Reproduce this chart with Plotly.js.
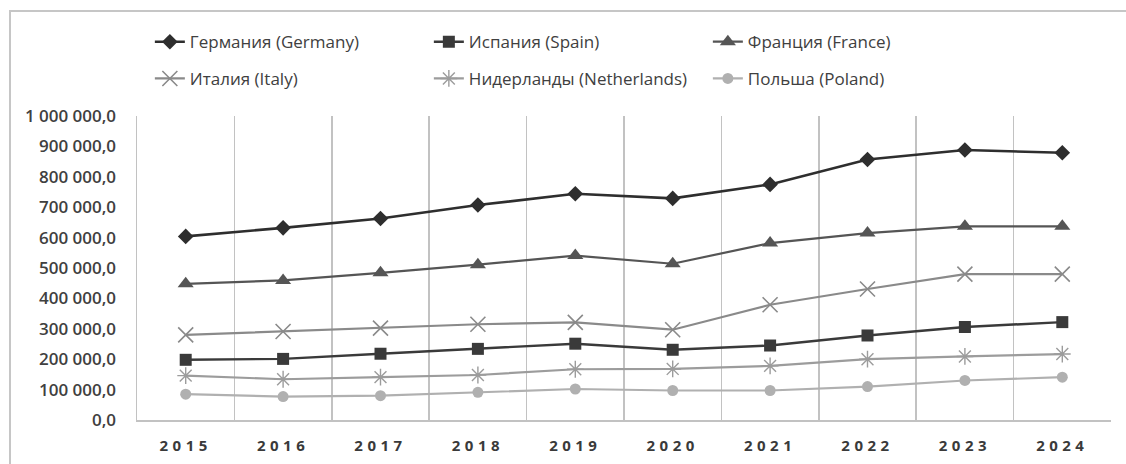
<!DOCTYPE html>
<html>
<head>
<meta charset="utf-8">
<script src="https://cdn.plot.ly/plotly-3.0.1.min.js"></script>
<style>
html,body{margin:0;padding:0;background:#fff;}
#wrap{position:relative;width:1126px;height:464px;overflow:hidden;}
#chart{width:1126px;height:464px;}
#frame{position:absolute;left:9px;top:10px;width:1300px;height:600px;border-left:2px solid #c6c6c6;border-top:2px solid #c6c6c6;pointer-events:none;}
.xtick text{letter-spacing:4.5px;}
</style>
</head>
<body>
<div id="wrap"><div id="chart"></div><div id="frame"></div></div>
<script>
var years = ["2015","2016","2017","2018","2019","2020","2021","2022","2023","2024"];
var germany     = [604000, 632000, 663000, 707000, 744000, 729000, 775000, 857000, 888000, 879000];
var spain       = [198000, 201000, 218000, 234000, 251000, 231000, 245000, 278000, 306000, 322000];
var france      = [448000, 459000, 484000, 511000, 541000, 514000, 582000, 615000, 637000, 637000];
var italy       = [280000, 291000, 302000, 315000, 321000, 297000, 379000, 431000, 480000, 480000];
var netherlands = [146000, 134000, 141000, 148000, 167000, 168000, 178000, 200000, 209000, 217000];
var poland      = [85000, 77000, 80000, 91000, 102000, 97000, 97000, 110000, 130000, 141000];
var names = ["Германия (Germany)","Испания (Spain)","Франция (France)","Италия (Italy)","Нидерланды (Netherlands)","Польша (Poland)"];
var yTickVals = [0,100000,200000,300000,400000,500000,600000,700000,800000,900000,1000000];
var yTickText = ["0,0","100 000,0","200 000,0","300 000,0","400 000,0","500 000,0","600 000,0","700 000,0","800 000,0","900 000,0","1 000 000,0"];

function tr(y, name, color, lw, sym, size, legend, mline){
  var m = {symbol: sym, size: size, color: color};
  if (mline) m.line = {color: color, width: mline};
  return {x: years, y: y, name: name, type: "scatter", mode: "lines+markers",
    line: {color: color, width: lw}, marker: m, legend: legend, cliponaxis: false};
}
var data = [
  tr(germany, names[0], "#2e2e2e", 2.6, "diamond", 12, "legend"),
  tr(spain, names[1], "#3a3a3a", 2.4, "square", 12, "legend"),
  tr(france, names[2], "#555555", 2.2, "triangle-up", 14, "legend"),
  tr(italy, names[3], "#8a8a8a", 2.2, "x-thin-open", 15, "legend2", 1.6),
  tr(netherlands, names[4], "#9c9c9c", 2.2, "asterisk-open", 14, "legend2", 1.4),
  tr(poland, names[5], "#b0b0b0", 2.2, "circle", 11, "legend2")
];
var legFont = {family: "'Open Sans', sans-serif", size: 17, color: "#404040"};
var layout = {
  width: 1126, height: 464,
  margin: {l: 137, r: 15, t: 116, b: 44},
  paper_bgcolor: "#ffffff", plot_bgcolor: "#ffffff",
  showlegend: true,
  xaxis: {type: "category", range: [-0.5, 9.5], tickson: "boundaries",
    showgrid: true, gridcolor: "#c2c2c2", gridwidth: 1.5,
    showline: true, linecolor: "#c2c2c2", linewidth: 2,
    ticks: "", ticklabelstandoff: 11,
    tickfont: {family: "'Open Sans', sans-serif", size: 15, color: "#3a3a3a", weight: "bold"},
    fixedrange: true},
  yaxis: {range: [0, 1000000], tickvals: yTickVals, ticktext: yTickText,
    showgrid: false, zeroline: false,
    showline: true, linecolor: "#c2c2c2", linewidth: 1.5,
    ticks: "", ticklabelstandoff: 16,
    tickfont: {family: "'Open Sans', sans-serif", size: 17, color: "#404040", weight: 600},
    fixedrange: true},
  legend: {orientation: "h", x: 0.0132, xanchor: "left", y: 1.243, yanchor: "middle",
    entrywidth: 234, entrywidthmode: "pixels", font: legFont, bgcolor: "rgba(0,0,0,0)"},
  legend2: {orientation: "h", x: 0.0132, xanchor: "left", y: 1.122, yanchor: "middle",
    entrywidth: 234, entrywidthmode: "pixels", font: legFont, bgcolor: "rgba(0,0,0,0)"}
};
Plotly.newPlot("chart", data, layout, {displayModeBar: false, staticPlot: true});
</script>
</body>
</html>
